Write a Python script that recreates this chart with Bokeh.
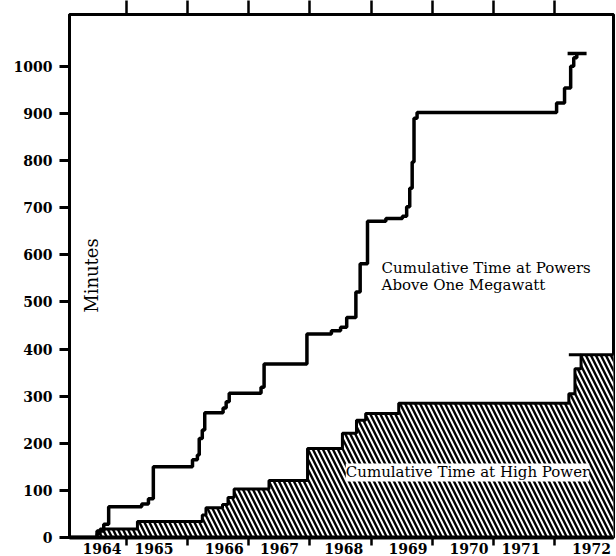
from bokeh.plotting import figure
from bokeh.models import FixedTicker, LinearAxis, Range1d, Label
from bokeh.embed import file_html
from bokeh.resources import INLINE

# Cumulative time at powers above one megawatt (step starts, decimal years)
mw_years = [1964.0, 1964.52, 1964.63, 1964.71, 1965.25, 1965.36, 1965.44, 1966.08, 1966.16,
            1966.19, 1966.24, 1966.28, 1966.58, 1966.63, 1966.68, 1967.20, 1967.25, 1967.95,
            1968.35, 1968.50, 1968.60, 1968.75, 1968.82, 1968.94, 1969.24, 1969.51, 1969.58,
            1969.63, 1969.67, 1969.70, 1969.75, 1972.03, 1972.16, 1972.26, 1972.31, 1972.36,
            1972.52]
mw_minutes = [0, 14, 28, 65, 71, 82, 150, 165, 175,
              210, 228, 265, 275, 288, 306, 319, 368, 432,
              439, 446, 467, 521, 581, 671, 677, 682, 702,
              741, 797, 890, 902, 922, 954, 1000, 1018, 1027,
              1027]
mw_cap_years = [1972.21, 1972.36]
mw_cap_minutes = [1027, 1027]

# Cumulative time at high power
hp_years = [1964.0, 1964.52, 1964.57, 1965.18, 1966.24, 1966.30, 1966.57, 1966.66, 1966.76,
            1967.33, 1967.96, 1968.53, 1968.76, 1968.91, 1969.45, 1972.23, 1972.33, 1972.43,
            1973.0]
hp_minutes = [0, 8, 18, 34, 48, 63, 70, 85, 103,
              121, 189, 221, 249, 263, 285, 305, 358, 388,
              388]
hp_cap_years = [1972.23, 1972.43]
hp_cap_minutes = [388, 388]

year_labels = ["1964", "1965", "1966", "1967", "1968", "1969", "1970", "1971", "1972"]
year_label_pos = [1964.6, 1965.45, 1966.6, 1967.5, 1968.55, 1969.6, 1970.6, 1971.45, 1972.6]
year_bounds = [1965, 1966, 1967, 1968, 1969, 1970, 1971, 1972]
y_ticks = [0, 100, 200, 300, 400, 500, 600, 700, 800, 900, 1000]

SERIF = "DejaVu Serif"

p = figure(width=616, height=556, x_range=Range1d(1964.07, 1972.96), y_range=Range1d(0, 1110),
           output_backend="svg", toolbar_location=None,
           min_border_left=69, min_border_right=3, min_border_top=14, min_border_bottom=19,
           x_axis_type=None, y_axis_type=None)
p.grid.visible = False
p.outline_line_color = "black"
p.outline_line_width = 3
p.background_fill_color = "white"
p.border_fill_color = "white"

# hatched area
p.varea_step(x=hp_years, y1=[0] * len(hp_years), y2=hp_minutes, step_mode="after",
             fill_color="white", hatch_pattern="\\", hatch_color="black",
             hatch_weight=2.4, hatch_scale=10)
p.step(hp_years, hp_minutes, mode="after", line_width=3, line_color="black")
p.line(hp_cap_years, hp_cap_minutes, line_width=3, line_color="black")

p.step(mw_years, mw_minutes, mode="after", line_width=3.5, line_color="black")
p.line(mw_cap_years, mw_cap_minutes, line_width=3.5, line_color="black")

# axes
yax = LinearAxis(ticker=FixedTicker(ticks=y_ticks))
yax.axis_line_width = 3
yax.major_tick_out = 10
yax.major_tick_in = 0
yax.major_tick_line_width = 3
yax.minor_tick_line_color = None
yax.major_label_text_font = SERIF
yax.major_label_text_font_style = "bold"
yax.major_label_text_font_size = "14px"
yax.major_label_text_color = "black"
yax.major_label_standoff = 7
p.add_layout(yax, "left")

xax = LinearAxis(ticker=FixedTicker(ticks=year_label_pos, minor_ticks=year_bounds))
xax.major_label_overrides = {pos: lab for pos, lab in zip(year_label_pos, year_labels)}
xax.axis_line_width = 4
xax.major_tick_line_color = None
xax.major_tick_out = 0
xax.major_tick_in = 0
xax.minor_tick_out = 8
xax.minor_tick_in = 0
xax.minor_tick_line_width = 2.5
xax.major_label_text_font = SERIF
xax.major_label_text_font_style = "bold"
xax.major_label_text_font_size = "14px"
xax.major_label_text_color = "black"
xax.major_label_standoff = -3
p.add_layout(xax, "below")

tax = LinearAxis(ticker=FixedTicker(ticks=year_bounds))
tax.major_label_overrides = {b: "" for b in year_bounds}
tax.axis_line_width = 2
tax.major_tick_out = 14
tax.major_tick_in = 0
tax.major_tick_line_width = 2.5
tax.minor_tick_line_color = None
tax.major_label_standoff = 0
p.add_layout(tax, "above")

# texts
p.add_layout(Label(x=1969.17, y=573, text="Cumulative Time at Powers", text_font=SERIF,
                   text_font_size="15px", text_color="black",
                   text_baseline="middle", text_align="left"))
p.add_layout(Label(x=1969.17, y=535, text="Above One Megawatt", text_font=SERIF,
                   text_font_size="15px", text_color="black",
                   text_baseline="middle", text_align="left"))
p.add_layout(Label(x=1968.585, y=138, text="Cumulative Time at High Power", text_font=SERIF,
                   text_font_size="15px", text_color="black",
                   text_baseline="middle", text_align="left",
                   background_fill_color="white"))
p.add_layout(Label(x=1964.43, y=556, text="Minutes", text_font=SERIF, text_font_size="18px",
                   text_color="black",
                   angle=90, angle_units="deg", text_baseline="middle", text_align="center"))

open("out.html", "w").write(file_html(p, INLINE))
